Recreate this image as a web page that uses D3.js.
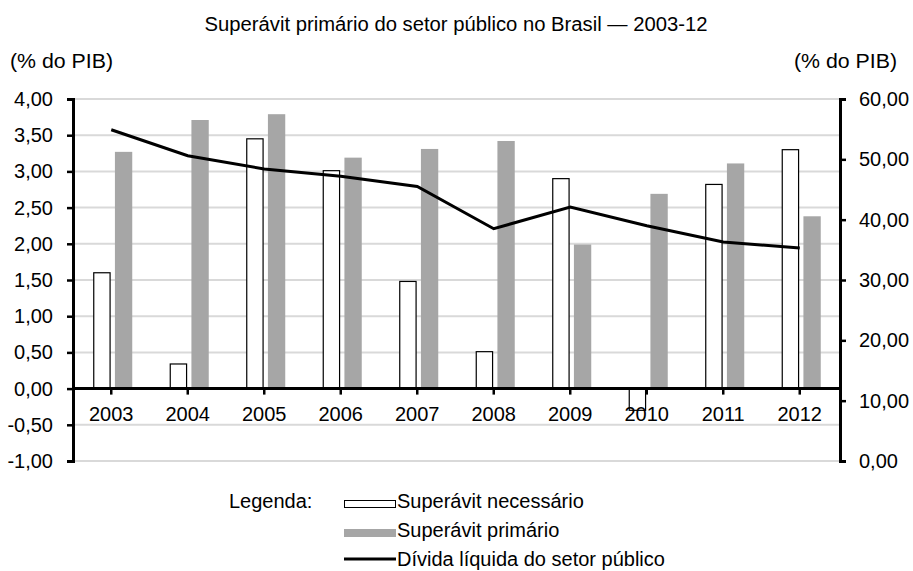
<!DOCTYPE html>
<html>
<head>
<meta charset="utf-8">
<script src="https://cdn.jsdelivr.net/npm/d3@7"></script>
<style>
  body { margin: 0; background: #fff; }
  text { font-family: "Liberation Sans", Arial, sans-serif; fill: #000; }
</style>
</head>
<body>
<div id="chart"></div>
<script>
(function () {

  const years = ["2003", "2004", "2005", "2006", "2007", "2008", "2009", "2010", "2011", "2012"]
  const necessario = [1.60, 0.34, 3.45, 3.01, 1.48, 0.51, 2.90, -0.30, 2.82, 3.30]
  const primario = [3.27, 3.71, 3.79, 3.19, 3.31, 3.42, 1.99, 2.69, 3.11, 2.38]
  const divida = [54.9, 50.6, 48.4, 47.2, 45.5, 38.5, 42.1, 39.0, 36.3, 35.3]
  const leftTicks = [-1, -0.5, 0, 0.5, 1, 1.5, 2, 2.5, 3, 3.5, 4]
  const rightTicks = [0, 10, 20, 30, 40, 50, 60]

  const width = 913
  const height = 571
  const left = 73, right = 840, top = 99, bottom = 461

  const svg = d3.select("#chart").append("svg")
      .attr("width", width)
      .attr("height", height)

  const fmt = v => d3.format(".2f")(v).replace(".", ",").replace("−", "-")

  const xScale = d3.scaleBand().domain(years).range([left, 838])
  const barScale = d3.scaleBand().domain(["nec", "prim"]).range([-18, 21]).paddingInner(0.2)
  const yLeft = d3.scaleLinear().domain([-1, 4]).range([bottom, top])
  const yRight = d3.scaleLinear().domain([0, 60]).range([bottom, top])

  // grid
  svg.append("g")
    .selectAll("line")
    .data(leftTicks.filter(d => d !== 0))
    .join("line")
    .attr("x1", left)
    .attr("x2", right)
    .attr("y1", d => yLeft(d))
    .attr("y2", d => yLeft(d))
    .attr("stroke", "#d9d9d9")
    .attr("stroke-width", 2)

  const center = d => xScale(d) + xScale.bandwidth() / 2

  const rows = years.map((y, i) => ({ year: y, nec: necessario[i], prim: primario[i], div: divida[i] }))

  // bars
  svg.append("g")
    .selectAll("rect")
    .data(rows)
    .join("rect")
    .attr("x", d => center(d.year) + barScale("prim"))
    .attr("width", barScale.bandwidth())
    .attr("y", d => yLeft(Math.max(0, d.prim)))
    .attr("height", d => Math.abs(yLeft(d.prim) - yLeft(0)))
    .attr("fill", "#a6a6a6")

  // year labels (drawn before white bars so the 2010 bar overlaps them)
  svg.append("g")
    .selectAll("text")
    .data(years)
    .join("text")
    .attr("x", d => center(d))
    .attr("y", yLeft(0) + 32)
    .attr("text-anchor", "middle")
    .attr("font-size", 20)
    .text(d => d)

  svg.append("g")
    .selectAll("rect")
    .data(rows)
    .join("rect")
    .attr("x", d => center(d.year) + barScale("nec") + 0.5)
    .attr("width", barScale.bandwidth() - 1)
    .attr("y", d => yLeft(Math.max(0, d.nec)))
    .attr("height", d => Math.abs(yLeft(d.nec) - yLeft(0)))
    .attr("fill", d => d.nec < 0 ? "none" : "#fff")
    .attr("stroke", "#000")
    .attr("stroke-width", 1.2)

  // x axis line at zero
  svg.append("line")
    .attr("x1", left)
    .attr("x2", right)
    .attr("y1", yLeft(0))
    .attr("y2", yLeft(0))
    .attr("stroke", "#000")
    .attr("stroke-width", 3)

  svg.append("g")
    .selectAll("line")
    .data(years)
    .join("line")
    .attr("x1", d => center(d))
    .attr("x2", d => center(d))
    .attr("y1", yLeft(0))
    .attr("y2", yLeft(0) + 6)
    .attr("stroke", "#000")
    .attr("stroke-width", 2.5)

  // line
  const line = d3.line()
    .x(d => center(d.year))
    .y(d => yRight(d.div))

  svg.append("path")
    .datum(rows)
    .attr("d", line)
    .attr("fill", "none")
    .attr("stroke", "#000")
    .attr("stroke-width", 3)

  // axes
  const yAxisL = d3.axisLeft(yLeft).tickValues(leftTicks).tickFormat(fmt).tickSize(6).tickPadding(14)
  svg.append("g")
    .attr("class", "axis y-axis")
    .attr("transform", "translate(" + left + ",0)")
    .call(yAxisL)

  const yAxisR = d3.axisRight(yRight).tickValues(rightTicks).tickFormat(fmt).tickSize(6).tickPadding(13)
  svg.append("g")
    .attr("class", "axis y-axis")
    .attr("transform", "translate(" + right + ",0)")
    .call(yAxisR)

  svg.selectAll(".axis path").attr("stroke", "#000").attr("stroke-width", 3)
  svg.selectAll(".axis line").attr("stroke", "#000").attr("stroke-width", 2.5)
  svg.selectAll(".axis text")
    .attr("font-size", 20)
    .attr("font-family", "Liberation Sans, Arial, sans-serif")
    .attr("fill", "#000")

  // titles
  svg.append("text")
    .attr("x", 456)
    .attr("y", 31)
    .attr("text-anchor", "middle")
    .attr("font-size", 19.5)
    .attr("textLength", 503)
    .attr("lengthAdjust", "spacingAndGlyphs")
    .text("Superávit primário do setor público no Brasil — 2003-12")

  svg.append("text")
    .attr("x", 10)
    .attr("y", 68)
    .attr("font-size", 19.5)
    .attr("textLength", 103)
    .attr("lengthAdjust", "spacingAndGlyphs")
    .text("(% do PIB)")

  svg.append("text")
    .attr("x", 794)
    .attr("y", 68)
    .attr("font-size", 19.5)
    .attr("textLength", 103)
    .attr("lengthAdjust", "spacingAndGlyphs")
    .text("(% do PIB)")

  // legend
  const legend = svg.append("g")

  legend.append("text")
    .attr("x", 229)
    .attr("y", 508)
    .attr("font-size", 20)
    .text("Legenda:")

  legend.append("rect")
    .attr("x", 344.5)
    .attr("y", 500.5)
    .attr("width", 51)
    .attr("height", 7)
    .attr("fill", "#fff")
    .attr("stroke", "#000")
    .attr("stroke-width", 1)

  legend.append("rect")
    .attr("x", 344)
    .attr("y", 529)
    .attr("width", 52)
    .attr("height", 8)
    .attr("fill", "#a6a6a6")

  legend.append("line")
    .attr("x1", 344)
    .attr("x2", 396)
    .attr("y1", 559)
    .attr("y2", 559)
    .attr("stroke", "#000")
    .attr("stroke-width", 3)

  const legendLabels = ["Superávit necessário", "Superávit primário", "Dívida líquida do setor público"]
  legend.selectAll(".lab")
    .data(legendLabels)
    .join("text")
    .attr("class", "lab")
    .attr("x", 397)
    .attr("y", (d, i) => 508 + i * 29)
    .attr("font-size", 20)
    .text(d => d)

})();
</script>
</body>
</html>
